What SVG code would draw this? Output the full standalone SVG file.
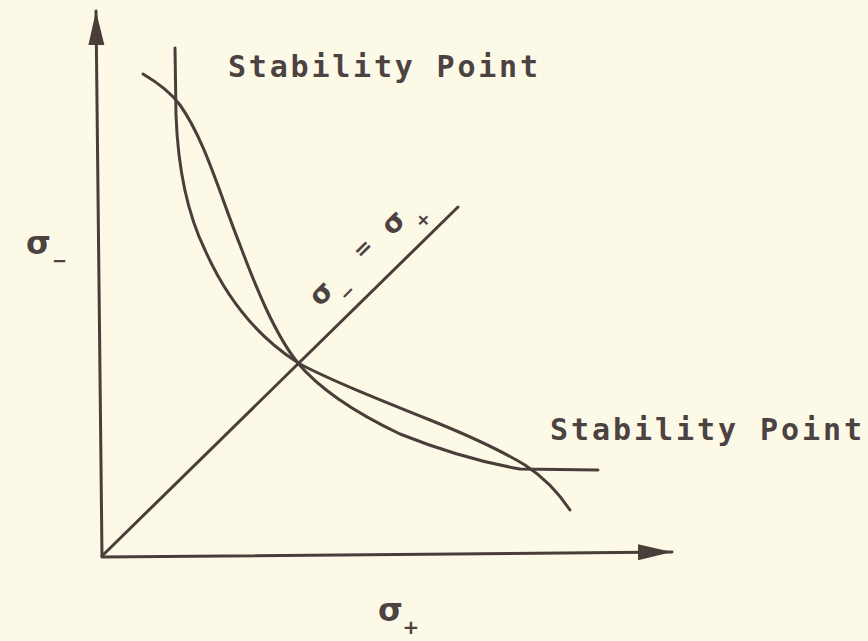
<svg xmlns="http://www.w3.org/2000/svg" width="868" height="641" viewBox="0 0 868 641">
  <style>
    .ln { fill: none; stroke: #4a3e3a; stroke-width: 3; stroke-linecap: round; stroke-linejoin: round; }
    .lbl { font-family: "DejaVu Sans Mono", "Liberation Mono", monospace; font-size: 30px; font-weight: bold; fill: #4d4242; }
    .sym { font-family: "DejaVu Sans", "Liberation Sans", sans-serif; font-weight: bold; fill: #4d4242; }
  </style>
  <defs>
    <marker id="arr" markerUnits="userSpaceOnUse" markerWidth="40" markerHeight="20" viewBox="0 -10 40 20" refX="34" refY="0" orient="auto">
      <path d="M0,-8 L34,0 L0,8 z" fill="#4a3e3a"/>
    </marker>
  </defs>
  <rect width="868" height="641" fill="#fcfae7"/>
  <g id="axes">
    <line class="ln" x1="102" y1="556" x2="96" y2="11" marker-end="url(#arr)"/>
    <line class="ln" x1="102" y1="557" x2="672" y2="552" marker-end="url(#arr)"/>
  </g>
  <g id="connectors">
    <line class="ln" x1="102" y1="556" x2="458" y2="207"/>
    <path class="ln" d="M143,74 C160,84 172,94 180,105 C205,140 220,195 240,245 C255,285 275,335 298,363 C330,380 380,400 430,420 C470,436 500,450 525,465 C545,478 560,495 570,510"/>
    <path class="ln" d="M175,48 L176,115 C178,170 188,215 205,250 C225,295 255,335 297,362 C320,390 360,415 400,434 C440,450 480,462 520,469 L598,470"/>
  </g>
  <g id="labels">
    <text class="lbl" x="228" y="77" textLength="310" lengthAdjust="spacing">Stability Point</text>
    <text class="lbl" x="550" y="440" textLength="312" lengthAdjust="spacing">Stability Point</text>
    <text class="sym" x="26" y="254" font-size="32">σ</text>
    <text class="sym" x="52" y="267" font-size="18">−</text>
    <text class="sym" x="378" y="621" font-size="32">σ</text>
    <text class="sym" x="411" y="634" font-size="20" text-anchor="middle">+</text>
  </g>
  <g id="diag-label" transform="translate(321,293) rotate(-45)" class="sym" text-anchor="middle" dominant-baseline="central">
    <text x="0" y="0" font-size="28">σ</text>
    <text x="19" y="18" font-size="18">−</text>
    <text x="61" y="-2" font-size="22">=</text>
    <text x="101" y="1" font-size="28">σ</text>
    <text x="124" y="20" font-size="18">+</text>
  </g>
</svg>
